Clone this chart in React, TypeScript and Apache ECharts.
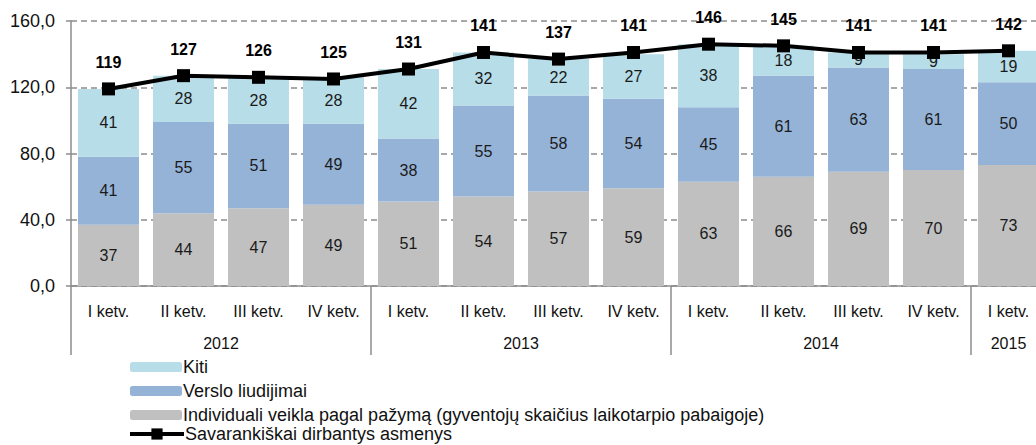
import React, { useEffect, useRef } from "react";
import * as echarts from "echarts";

const quarters = ["I ketv.", "II ketv.", "III ketv.", "IV ketv.", "I ketv.", "II ketv.", "III ketv.", "IV ketv.", "I ketv.", "II ketv.", "III ketv.", "IV ketv.", "I ketv."];
const years = ["2012", "2013", "2014", "2015"];
const yearStart = [0, 4, 8, 12];
const yearEnd = [4, 8, 12, 13];
const individuali = [37, 44, 47, 49, 51, 54, 57, 59, 63, 66, 69, 70, 73];
const verslo = [41, 55, 51, 49, 38, 55, 58, 54, 45, 61, 63, 61, 50];
const kiti = [41, 28, 28, 28, 42, 32, 22, 27, 38, 18, 9, 9, 19];
const total = [119, 127, 126, 125, 131, 141, 137, 141, 146, 145, 141, 141, 142];

const NAME_KITI = "Kiti";
const NAME_VERSLO = "Verslo liudijimai";
const NAME_IND = "Individuali veikla pagal pažymą (gyventojų skaičius laikotarpio pabaigoje)";
const NAME_LINE = "Savarankiškai dirbantys asmenys";

const FONT = "'Liberation Sans', Arial, sans-serif";

export default function App() {
  const ref = useRef<HTMLDivElement>(null);
  useEffect(() => {
    if (!ref.current) return;
    const chart = echarts.init(ref.current, undefined, { renderer: "svg" });
    const yearCenters = years.map((_, i) => (yearStart[i] + yearEnd[i]) / 2);
    const barLabel = { show: true, position: "inside", color: "#1a1a1a", fontSize: 16, fontFamily: FONT };
    const legendText = { fontSize: 18, color: "#111", fontFamily: FONT, padding: [0, 0, 0, -4], lineHeight: 17 };
    chart.setOption({
      animation: false,
      textStyle: { fontFamily: FONT },
      grid: { left: 71, right: 14, top: 21, bottom: 159 },
      legend: [
        {
          orient: "vertical",
          left: 125,
          top: 353,
          itemWidth: 52,
          itemHeight: 10,
          itemGap: 6,
          data: [NAME_KITI, NAME_VERSLO, NAME_IND],
          textStyle: legendText,
        },
        {
          orient: "vertical",
          left: 123,
          top: 420,
          itemWidth: 54,
          itemHeight: 14,
          data: [NAME_LINE],
          lineStyle: { width: 4, color: "#000" },
          itemStyle: { color: "#000" },
          textStyle: legendText,
        },
      ],
      xAxis: [
        {
          type: "category",
          data: quarters,
          position: "bottom",
          axisLine: { show: true, lineStyle: { color: "#8c8c8c", width: 1.5 } },
          axisTick: { show: false },
          axisLabel: { margin: 17, fontSize: 16, color: "#111", fontFamily: FONT, interval: 0 },
        },
        {
          type: "value",
          min: 0,
          max: quarters.length,
          position: "bottom",
          axisLine: { show: false },
          splitLine: { show: false },
          axisTick: { show: true, length: 69, customValues: yearStart.concat([quarters.length]), lineStyle: { color: "#8c8c8c", width: 1.5 } },
          axisLabel: {
            margin: 49,
            fontSize: 16,
            color: "#111",
            fontFamily: FONT,
            customValues: yearCenters,
            formatter: (v: number) => {
              const i = yearCenters.indexOf(v);
              return i >= 0 ? years[i] : "";
            },
          },
        },
      ],
      yAxis: {
        type: "value",
        min: 0,
        max: 160,
        interval: 40,
        axisLine: { show: true, lineStyle: { color: "#8c8c8c", width: 1.5 } },
        axisTick: { show: true, length: 5, lineStyle: { color: "#8c8c8c", width: 1.5 } },
        splitLine: { show: true, lineStyle: { color: "#8c8c8c", width: 1.5, type: [6, 4] } },
        axisLabel: {
          margin: 16,
          fontSize: 18,
          color: "#111",
          fontFamily: FONT,
          formatter: (v: number) => v.toFixed(1).replace(".", ","),
        },
      },
      series: [
        {
          name: NAME_IND,
          type: "bar",
          stack: "s",
          data: individuali,
          barWidth: 61,
          itemStyle: { color: "#c0c0c0" },
          label: barLabel,
        },
        {
          name: NAME_VERSLO,
          type: "bar",
          stack: "s",
          data: verslo,
          barWidth: 61,
          itemStyle: { color: "#95b3d7" },
          label: barLabel,
        },
        {
          name: NAME_KITI,
          type: "bar",
          stack: "s",
          data: kiti,
          barWidth: 61,
          itemStyle: { color: "#b7dde8" },
          label: barLabel,
        },
        {
          name: NAME_LINE,
          type: "line",
          data: total,
          symbol: "rect",
          symbolSize: 13,
          itemStyle: { color: "#000" },
          lineStyle: { color: "#000", width: 4 },
          z: 10,
          label: { show: true, position: "top", distance: 12, fontSize: 16, fontWeight: "bold", color: "#000", fontFamily: FONT },
        },
      ],
    });
    return () => chart.dispose();
  }, []);
  return (
    <div style={{ position: "fixed", left: 0, top: 0, width: 1036, height: 445, overflow: "hidden", background: "#fff" }}>
      <div ref={ref} style={{ width: 1060, height: 445 }} />
    </div>
  );
}
